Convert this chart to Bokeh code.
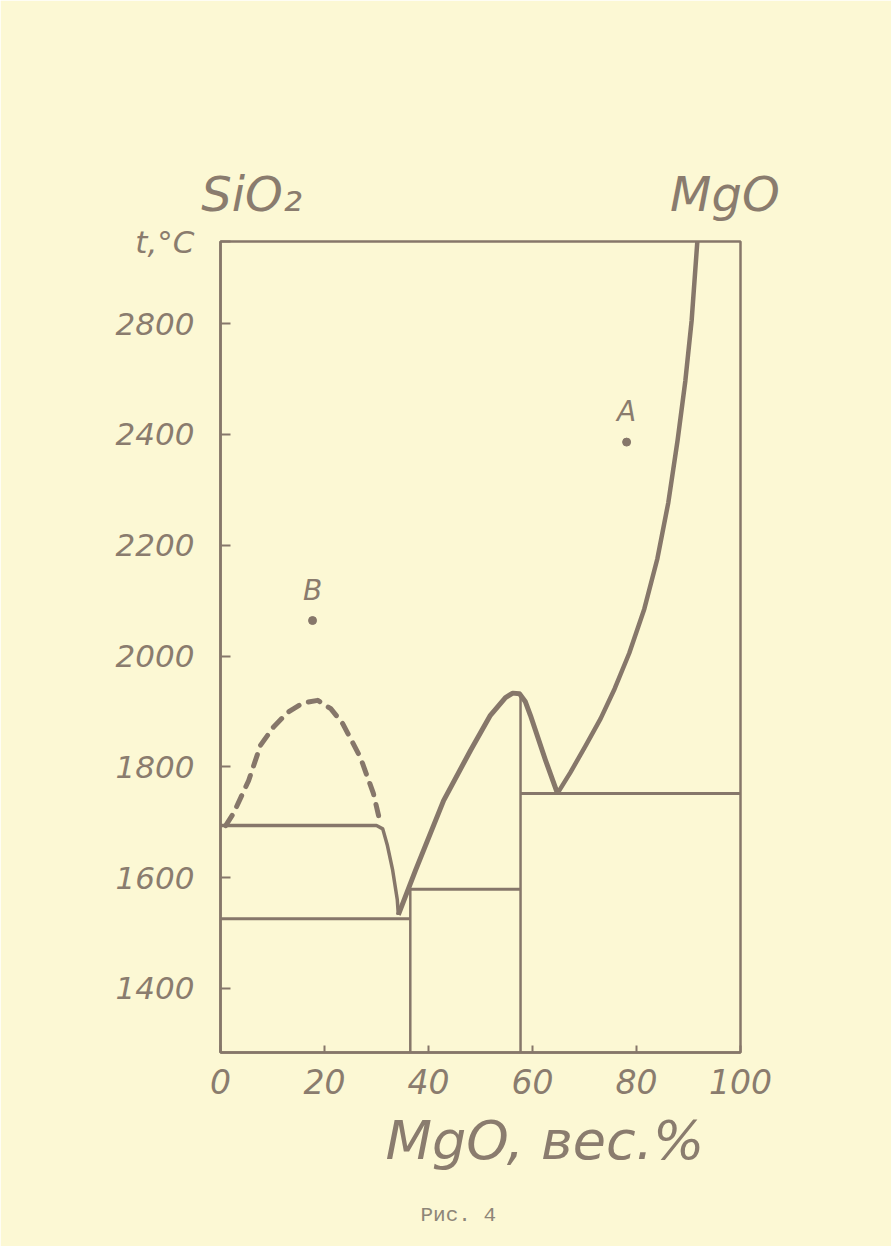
from bokeh.plotting import figure
from bokeh.models import Label, FixedTicker, Range1d, LinearAxis, Title
from bokeh.embed import file_html
from bokeh.resources import INLINE

# ---------------- data ----------------
# y values are in the drawn axis units: ticks are equally spaced,
# the top tick is labelled 2800 although it sits where 2600 would be.
y_ticks = [1400, 1600, 1800, 2000, 2200, 2400, 2600]
y_tick_labels = ["1400", "1600", "1800", "2000", "2200", "2400", "2800"]
x_ticks = [0, 20, 40, 60, 80, 100]
x_tick_labels = ["0", "20", "40", "60", "80", "100"]

# component names written above the two ends of the composition axis
end_ticks = [6, 97]
end_names = ["SiO₂", "MgO"]

# liquid immiscibility flat (upper left) and its descent to eutectic
left_flat_x = [0.0, 30.0, 31.2, 32.1, 33.1, 34.0, 34.2]
left_flat_y = [1694, 1694, 1688, 1658, 1614, 1560, 1533]

# dashed dome (immiscibility)
dome_x = [1.0, 2.5, 5.4, 7.7, 10.2, 12.9, 15.8, 18.7, 21.2, 23.5, 26.9, 29.4, 30.4]
dome_y = [1694, 1716, 1775, 1839, 1872, 1898, 1915, 1920, 1905, 1878, 1817, 1752, 1712]

# liquidus from eutectic up to the forsterite maximum and down to the 2nd eutectic
mid_x = [34.2, 37.5, 42.9, 48.1, 51.9, 54.8, 56.2, 57.5, 58.6, 59.6, 62.5, 64.8]
mid_y = [1533, 1613, 1739, 1830, 1893, 1925, 1933, 1932, 1918, 1893, 1812, 1752]

# MgO liquidus
right_x = [64.8, 67.3, 70.2, 73.1, 75.8, 78.6, 81.5, 84.0, 86.1, 87.9, 89.4, 90.6, 91.7]
right_y = [1752, 1790, 1838, 1887, 1941, 2005, 2085, 2175, 2276, 2389, 2497, 2605, 2748]

# solidus / compound lines
h_lines = [  # (x0, x1, y)
    (0.0, 36.5, 1526),
    (36.5, 57.7, 1579),
    (57.7, 100.0, 1752),
]
v_lines = [  # (x, y0, y1)
    (36.5, 1285, 1579),
    (57.7, 1285, 1932),
]

points_x = [17.7, 78.1]
points_y = [2064, 2386]
point_names = ["В", "А"]

x_title = "MgO, вес.%"
y_title = "t,°C"
caption = "Рис. 4"

# ---------------- layout ----------------
INK = "#86776a"
TXT = "#8a7c6e"
BG = "#fcf8d4"
FONT = "DejaVu Sans"

X0, X1 = 0, 100
Y0, Y1 = 1284.5, 2748

p = figure(width=891, height=1246, output_backend="svg", toolbar_location=None,
           x_range=Range1d(X0, X1), y_range=Range1d(Y0, Y1),
           min_border_left=220, min_border_right=151,
           min_border_top=241, min_border_bottom=194)
p.background_fill_color = BG
p.border_fill_color = BG
p.outline_line_color = INK
p.outline_line_width = 2.5
p.grid.visible = False

for ax in (p.xaxis, p.yaxis):
    ax.axis_line_color = INK
    ax.axis_line_width = 2.5
    ax.major_tick_line_color = INK
    ax.major_tick_line_width = 2
    ax.major_tick_out = 0
    ax.minor_tick_line_color = None
    ax.major_label_text_color = TXT
    ax.major_label_text_font = FONT
    ax.major_label_text_font_style = "italic"

# the "t,°C" heading sits at the top of the temperature axis; its tick coincides
# with the top edge of the frame and is therefore invisible
Y_TOP = 2748
p.yaxis.ticker = FixedTicker(ticks=y_ticks + [Y_TOP])
overrides = {t: l for t, l in zip(y_ticks, y_tick_labels)}
overrides[Y_TOP] = y_title
p.yaxis.major_label_overrides = overrides
p.yaxis.major_tick_in = 10
p.yaxis.major_label_text_font_size = "31px"
p.yaxis.major_label_standoff = 26

p.xaxis.ticker = FixedTicker(ticks=x_ticks)
p.xaxis.major_label_overrides = {t: l for t, l in zip(x_ticks, x_tick_labels)}
p.xaxis.major_tick_in = 7
p.xaxis.major_label_text_font_size = "33px"
p.xaxis.major_label_standoff = 16

top_axis = LinearAxis(ticker=FixedTicker(ticks=end_ticks),
                      major_label_overrides={t: l for t, l in zip(end_ticks, end_names)},
                      axis_line_color=None, major_tick_line_color=None,
                      minor_tick_line_color=None, major_tick_in=0, major_tick_out=0,
                      major_label_standoff=20, major_label_text_font=FONT,
                      major_label_text_font_style="italic",
                      major_label_text_font_size="48px", major_label_text_color=TXT)
p.add_layout(top_axis, "above")

p.add_layout(Title(text=x_title, align="left", offset=165, text_font=FONT,
                   text_font_style="italic", text_font_size="54px",
                   text_color=TXT, standoff=20), "below")
p.add_layout(Title(text=caption, align="left", offset=200, text_font="Liberation Mono",
                   text_font_style="normal", text_font_size="21px",
                   text_color="#8e8678", standoff=40), "below")

# lines
for x0, x1, y in h_lines:
    p.line([x0, x1], [y, y], line_color=INK, line_width=3)
for x, y0, y1 in v_lines:
    p.line([x, x], [y0, y1], line_color=INK, line_width=2.5)

p.line(left_flat_x, left_flat_y, line_color=INK, line_width=3.5, line_join="round")
p.line(mid_x, mid_y, line_color=INK, line_width=5, line_join="round")
p.line(right_x, right_y, line_color=INK, line_width=4.5, line_join="round")
p.line(dome_x, dome_y, line_color=INK, line_width=5, line_dash="12 10",
       line_cap="round", line_join="round")

p.scatter(points_x, points_y, size=8, color=INK)

for nx, ny, nm in zip(points_x, points_y, point_names):
    p.add_layout(Label(x=nx, y=ny, text=nm, text_font=FONT, text_font_style="italic",
                       text_font_size="28px", text_color=TXT, text_align="center",
                       text_baseline="bottom", y_offset=14))

html = file_html(p, INLINE)
html = html.replace("<body>", '<body style="background:%s">' % BG, 1)
open("out.html", "w").write(html)
